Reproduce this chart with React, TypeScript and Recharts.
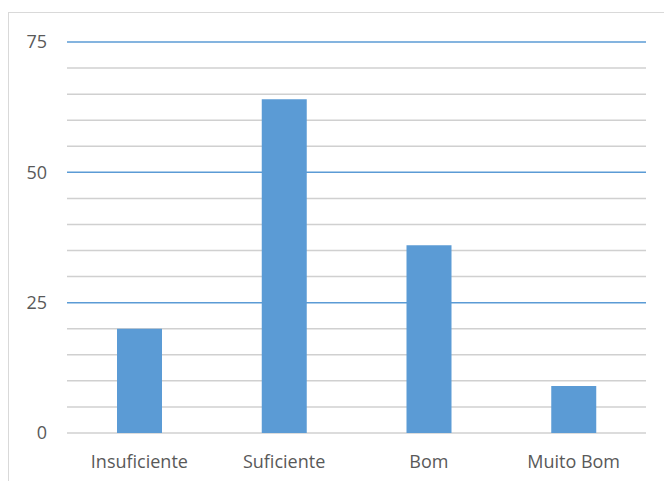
import { BarChart, Bar, XAxis, YAxis, CartesianGrid } from "recharts";

const CATEGORIES = ["Insuficiente", "Suficiente", "Bom", "Muito Bom"];
const VALUES = [20, 64, 36, 9];
const Y_TICKS = [0, 25, 50, 75];
const MINOR_LINES = [0, 5, 10, 15, 20, 30, 35, 40, 45, 55, 60, 65, 70];
const MAJOR_LINES = [25, 50, 75];

const data = CATEGORIES.map((name, i) => ({ name, value: VALUES[i] }));

const FONT = "'Open Sans', sans-serif";

export default function App() {
  return (
    <div style={{ position: "fixed", left: 0, top: 0, width: 664, height: 481, background: "#fff", overflow: "hidden" }}>
      {/* chart frame */}
      <div
        style={{
          position: "absolute",
          left: 8,
          top: 12,
          width: 680,
          height: 500,
          border: "1px solid #d9d9d9",
          boxSizing: "border-box",
        }}
      />
      <div style={{ position: "absolute", left: 0, top: 0 }}>
        <BarChart
          width={664}
          height={481}
          data={data}
          margin={{ top: 42, right: 18, bottom: 18, left: 0 }}
          barSize={45}
        >
          <CartesianGrid vertical={false} horizontalValues={MINOR_LINES} stroke="#d0d0d0" strokeWidth={1.5} />
          <CartesianGrid vertical={false} horizontalValues={MAJOR_LINES} stroke="#5b9bd5" strokeWidth={1.5} />
          <XAxis
            dataKey="name"
            axisLine={false}
            tickLine={false}
            tickSize={0}
            tickMargin={22}
            tick={{ fill: "#595959", fontSize: 18, fontFamily: FONT }}
          />
          <YAxis
            width={67}
            domain={[0, 75]}
            ticks={Y_TICKS}
            axisLine={false}
            tickLine={false}
            tickSize={0}
            tickMargin={20}
            tick={{ fill: "#595959", fontSize: 18, fontFamily: FONT }}
          />
          <Bar dataKey="value" fill="#5b9bd5" isAnimationActive={false} />
        </BarChart>
      </div>
    </div>
  );
}
